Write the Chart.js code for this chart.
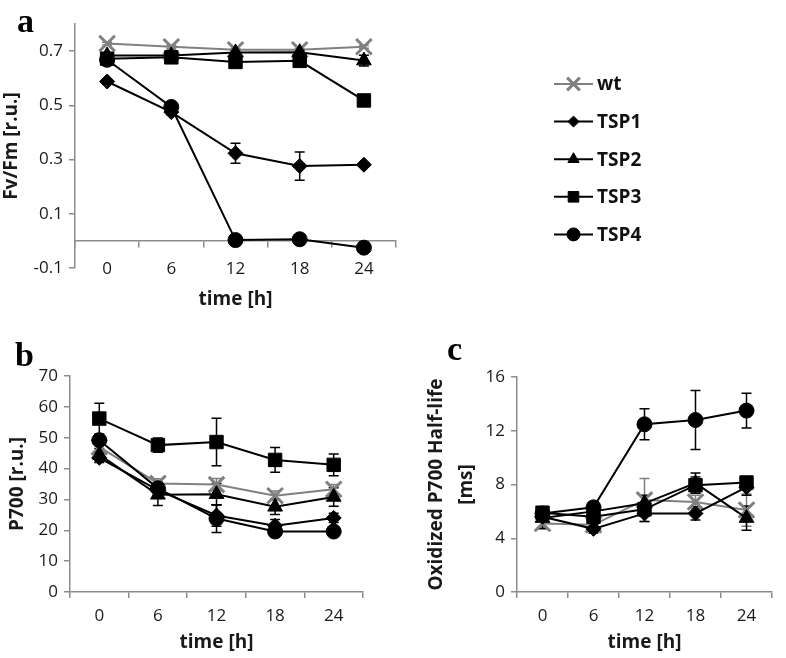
<!DOCTYPE html>
<html>
<head>
<meta charset="utf-8">
<script src="https://cdn.jsdelivr.net/npm/chart.js@4.4.1/dist/chart.umd.min.js"></script>
<style>
html, body { margin: 0; padding: 0; background: #fff; }
body { width: 786px; height: 658px; position: relative; overflow: hidden; }
.box { position: absolute; }
.tag { position: absolute; font-family: "Liberation Serif", "Times New Roman", serif; font-weight: bold; font-size: 34px; line-height: 1; color: #000; }
</style>
</head>
<body>
<div class="box" style="left:0;top:0;width:786px;height:330px"><canvas id="chartA"></canvas></div>
<div class="box" style="left:0;top:330px;width:400px;height:328px"><canvas id="chartB"></canvas></div>
<div class="box" style="left:410px;top:330px;width:376px;height:328px"><canvas id="chartC"></canvas></div>
<div class="tag" style="left:17px;top:4px">a</div>
<div class="tag" style="left:15px;top:338px">b</div>
<div class="tag" style="left:447px;top:332px">c</div>
<script>
// time points (h)
const timeLabels = ["0", "6", "12", "18", "24"];
const seriesNames = ["wt", "TSP1", "TSP2", "TSP3", "TSP4"];

// a: Fv/Fm [r.u.]
const fvWt   = [0.728, 0.716, 0.705, 0.705, 0.716];
const fvTsp1 = [0.588, 0.475, 0.323, 0.276, 0.281];
const fvTsp2 = [0.684, 0.684, 0.695, 0.696, 0.665];
const fvTsp3 = [0.672, 0.677, 0.660, 0.664, 0.518];
const fvTsp4 = [0.668, 0.494, 0.003, 0.006, -0.025];
const fvErrWt   = [0.005, 0.005, 0.005, 0.005, 0.005];
const fvErrTsp1 = [0.008, 0.010, 0.037, 0.052, 0.008];
const fvErrTsp2 = [0.005, 0.005, 0.008, 0.008, 0.020];
const fvErrTsp3 = [0.005, 0.005, 0.005, 0.005, 0.010];
const fvErrTsp4 = [0.005, 0.010, 0.005, 0.005, 0.005];
const fvTicks = [-0.1, 0.1, 0.3, 0.5, 0.7];

// b: P700 [r.u.]
const p7Wt   = [47.0, 35.2, 34.8, 31.2, 33.3];
const p7Tsp1 = [43.5, 33.0, 24.8, 21.5, 24.0];
const p7Tsp2 = [44.5, 31.5, 31.7, 27.6, 30.8];
const p7Tsp3 = [56.2, 47.6, 48.6, 42.8, 41.2];
const p7Tsp4 = [49.2, 33.6, 23.8, 19.6, 19.6];
const p7ErrWt   = [2.0, 1.5, 2.0, 1.5, 1.5];
const p7ErrTsp1 = [1.5, 2.0, 3.5, 2.0, 1.5];
const p7ErrTsp2 = [2.0, 3.5, 3.5, 2.5, 3.0];
const p7ErrTsp3 = [5.0, 2.3, 7.7, 4.0, 3.5];
const p7ErrTsp4 = [1.5, 2.0, 4.5, 1.5, 1.0];
const p7Ticks = [0, 10, 20, 30, 40, 50, 60, 70];

// c: Oxidized P700 half-life [ms]
const hlWt   = [5.1, 5.0, 6.85, 6.7, 6.1];
const hlTsp1 = [5.6, 4.7, 5.85, 5.85, 7.8];
const hlTsp2 = [5.5, 6.0, 6.6, 8.1, 5.5];
const hlTsp3 = [5.9, 5.6, 6.15, 7.95, 8.15];
const hlTsp4 = [5.85, 6.3, 12.48, 12.8, 13.5];
const hlErrWt   = [0.3, 0.3, 1.6, 0.5, 1.2];
const hlErrTsp1 = [0.3, 0.3, 0.6, 0.5, 0.6];
const hlErrTsp2 = [0.8, 0.5, 0.6, 0.75, 0.9];
const hlErrTsp3 = [0.3, 0.4, 0.5, 0.6, 0.4];
const hlErrTsp4 = [0.3, 0.4, 1.15, 2.2, 1.3];
const hlTicks = [0, 4, 8, 12, 16];

const gray = "#808080";
const axisGray = "#8c8c8c";
const ink = "#1a1a1a";
const lineColors = [gray, "#000", "#000", "#000", "#000"];
const markerStyles = ["crossRot", "rectRot", "triangle", "rect", "circle"];
const markerSizes = [11, 7.5, 8.5, 9.5, 7.5];
const legendSizes = [9, 5.5, 6.5, 7.5, 6.5];
const tickFont = { family: "Open Sans", size: 17 };
const titleFont = { family: "Open Sans", size: 19, weight: "bold" };

function makeSets(values, errs) {
    return seriesNames.map((name, i) => ({
        label: name,
        data: values[i],
        errors: errs[i],
        borderColor: lineColors[i],
        backgroundColor: lineColors[i],
        borderWidth: 2,
        pointStyle: markerStyles[i],
        pointRadius: markerSizes[i],
        pointHoverRadius: markerSizes[i],
        pointBackgroundColor: lineColors[i],
        pointBorderColor: lineColors[i],
        pointBorderWidth: i === 0 ? 3 : 1,
        order: 5 - i,
        tension: 0,
        fill: false
    }));
}

const errorBars = {
    id: "errorBars",
    beforeDatasetsDraw(chart) {
        const ctx = chart.ctx;
        const xs = chart.scales.x, ys = chart.scales.y;
        chart.data.datasets.forEach(ds => {
            ctx.save();
            ctx.strokeStyle = ds.borderColor;
            ctx.lineWidth = 1.5;
            ds.data.forEach((v, j) => {
                const e = ds.errors[j];
                const x = xs.getPixelForValue(j);
                const top = ys.getPixelForValue(v + e);
                const bot = ys.getPixelForValue(v - e);
                ctx.beginPath();
                ctx.moveTo(x, top); ctx.lineTo(x, bot);
                ctx.moveTo(x - 5, top); ctx.lineTo(x + 5, top);
                ctx.moveTo(x - 5, bot); ctx.lineTo(x + 5, bot);
                ctx.stroke();
            });
            ctx.restore();
        });
    }
};

const sideLegend = {
    id: "sideLegend",
    afterDraw(chart) {
        const ctx = chart.ctx;
        const x0 = chart.chartArea.right + 158;
        const y0 = chart.chartArea.top + 60;
        chart.data.datasets.forEach((ds, i) => {
            const y = y0 + i * 37.6;
            ctx.save();
            ctx.strokeStyle = ds.borderColor;
            ctx.lineWidth = 2;
            ctx.beginPath();
            ctx.moveTo(x0, y); ctx.lineTo(x0 + 39, y);
            ctx.stroke();
            ctx.fillStyle = ds.pointBackgroundColor;
            ctx.strokeStyle = ds.pointBorderColor;
            ctx.lineWidth = ds.pointBorderWidth;
            Chart.helpers.drawPoint(ctx, {
                pointStyle: ds.pointStyle, radius: legendSizes[i], rotation: 0, borderWidth: ds.pointBorderWidth
            }, x0 + 19.5, y);
            ctx.fillStyle = "#111";
            ctx.font = 'bold 19px "Open Sans"';
            ctx.textBaseline = "middle";
            ctx.textAlign = "left";
            ctx.fillText(ds.label, x0 + 43, y + 1);
            ctx.restore();
        });
    }
};

function yAxis(min, max, ticks, fmt, title, width, titlePad, lineH) {
    return {
        min: min, max: max,
        afterBuildTicks: s => { s.ticks = ticks.map(v => ({ value: v })); },
        afterFit: s => { s.width = width; },
        grid: { drawOnChartArea: false, drawTicks: true, tickLength: 6, color: axisGray, lineWidth: 1.5 },
        border: { display: true, color: axisGray, width: 1.5 },
        ticks: { font: tickFont, color: ink, padding: 6, callback: fmt },
        title: {
            display: true, text: title, color: ink,
            font: Object.assign({ lineHeight: lineH }, titleFont),
            padding: { top: titlePad, bottom: 0 }
        }
    };
}

function xAxis(height, showLine, pad) {
    return {
        type: "category",
        offset: true,
        afterFit: s => { s.height = height; },
        grid: showLine
            ? { drawOnChartArea: false, drawTicks: true, tickLength: 6, offset: true, color: axisGray, lineWidth: 1.5 }
            : { display: false, drawTicks: false },
        border: { display: showLine, color: axisGray, width: 1.5 },
        ticks: { display: showLine, font: tickFont, color: ink, padding: pad },
        title: { display: true, text: "time [h]", color: ink, font: titleFont, padding: { top: 0, bottom: 0 } }
    };
}

Chart.defaults.font.family = "Open Sans";

// panel a: x axis line crosses at 0, labels stay at the bottom
const scalesA = {
    x: xAxis(43, false, 0),
    x2: {
        type: "category", axis: "x", position: { y: 0 }, offset: true,
        grid: { drawOnChartArea: false, drawTicks: true, tickLength: 6, offset: true, color: axisGray, lineWidth: 1.5 },
        border: { display: true, color: axisGray, width: 1.5 },
        ticks: { display: true, font: tickFont, color: ink, padding: 12 }
    },
    y: yAxis(-0.1, 0.8, fvTicks, v => v.toFixed(1), "Fv/Fm [r.u.]", 75, 0, 1.2)
};
new Chart(document.getElementById("chartA"), {
    type: "line",
    data: {
        labels: timeLabels,
        datasets: makeSets([fvWt, fvTsp1, fvTsp2, fvTsp3, fvTsp4],
            [fvErrWt, fvErrTsp1, fvErrTsp2, fvErrTsp3, fvErrTsp4])
    },
    options: {
        responsive: true, maintainAspectRatio: false, animation: false,
        layout: { padding: { left: 0, right: 390, top: 24, bottom: 19 } },
        plugins: { legend: { display: false }, tooltip: { enabled: false } },
        scales: scalesA
    },
    plugins: [errorBars, sideLegend]
});

// panel b
new Chart(document.getElementById("chartB"), {
    type: "line",
    data: {
        labels: timeLabels,
        datasets: makeSets([p7Wt, p7Tsp1, p7Tsp2, p7Tsp3, p7Tsp4],
            [p7ErrWt, p7ErrTsp1, p7ErrTsp2, p7ErrTsp3, p7ErrTsp4])
    },
    options: {
        responsive: true, maintainAspectRatio: false, animation: false,
        layout: { padding: { left: 0, right: 37, top: 46, bottom: 4 } },
        plugins: { legend: { display: false }, tooltip: { enabled: false } },
        scales: {
            x: xAxis(62, true, 8),
            y: yAxis(0, 70, p7Ticks, v => String(v), "P700 [r.u.]", 70, 6, 1.2)
        }
    },
    plugins: [errorBars]
});

// panel c
new Chart(document.getElementById("chartC"), {
    type: "line",
    data: {
        labels: timeLabels,
        datasets: makeSets([hlWt, hlTsp1, hlTsp2, hlTsp3, hlTsp4],
            [hlErrWt, hlErrTsp1, hlErrTsp2, hlErrTsp3, hlErrTsp4])
    },
    options: {
        responsive: true, maintainAspectRatio: false, animation: false,
        layout: { padding: { left: 0, right: 3, top: 47, bottom: 4 } },
        plugins: { legend: { display: false }, tooltip: { enabled: false } },
        scales: {
            x: xAxis(62, true, 8),
            y: yAxis(0, 16, hlTicks, v => String(v), ["Oxidized P700 Half-life", "[ms]"], 107, 12, 1.55)
        }
    },
    plugins: [errorBars]
});
</script>
</body>
</html>
